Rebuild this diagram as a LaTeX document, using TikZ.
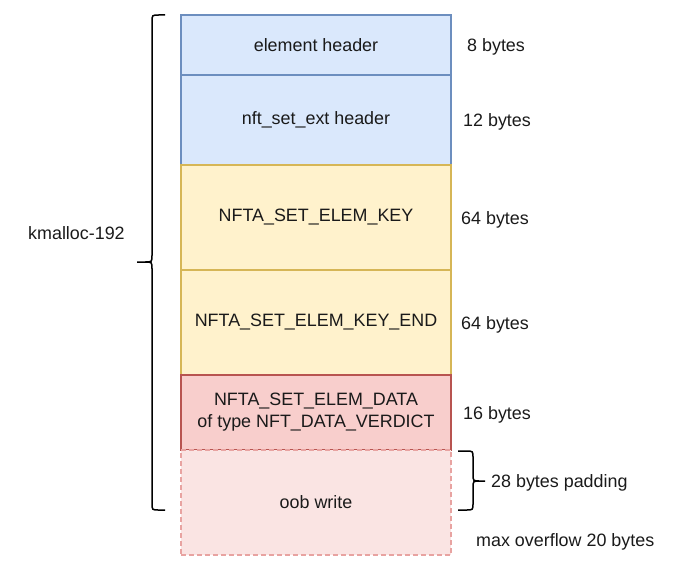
\documentclass[tikz,border=0pt]{standalone}
\usepackage{fontspec}
\setmainfont{Liberation Sans}
\definecolor{bfill}{HTML}{DAE8FC}
\definecolor{bline}{HTML}{6C8EBF}
\definecolor{yfill}{HTML}{FFF2CC}
\definecolor{yline}{HTML}{D6B656}
\definecolor{rfill}{HTML}{F8CECC}
\definecolor{rline}{HTML}{B85450}
\definecolor{pfill}{HTML}{FAE4E3}
\definecolor{pline}{HTML}{E8A3A1}
\definecolor{txt}{HTML}{1A1A1A}
\begin{document}
\begin{tikzpicture}[x=1pt,y=-1pt,
  font=\fontsize{17.9}{22}\selectfont, text=txt,
  field/.style={draw, line width=1.3pt, minimum width=270pt, inner sep=0pt, outer sep=0pt, align=center},
  bluebox/.style={field, fill=bfill, draw=bline},
  yellowbox/.style={field, fill=yfill, draw=yline},
  redbox/.style={field, fill=rfill, draw=rline},
  oobbox/.style={field, fill=pfill, draw=pline, dash pattern=on 5pt off 3pt},
  lbl/.style={inner sep=0pt, anchor=west, text height=13pt, text depth=0pt},
  bracestyle/.style={draw=black, line width=1.5pt}]
\useasboundingbox (0,0) rectangle (684,572);
\node[bluebox, minimum height=60pt] (eh) at (316,45) {element header};
\node[bluebox, minimum height=90pt] (ext) at (316,120) {nft\_set\_ext header};
\node[yellowbox, minimum height=105pt] (key) at (316,217.5) {NFTA\_SET\_ELEM\_KEY};
\node[yellowbox, minimum height=105pt] (keyend) at (316,322.5) {NFTA\_SET\_ELEM\_KEY\_END};
\node[redbox, minimum height=75pt] (data) at (316,412.5) {NFTA\_SET\_ELEM\_DATA\\of type NFT\_DATA\_VERDICT};
\node[oobbox, minimum height=105pt] (oob) at (316,502.5) {oob write};

\node[lbl] (s8) at (467,45) {8 bytes};
\node[lbl] (s12) at (463,120) {12 bytes};
\node[lbl] (s64a) at (461,217.5) {64 bytes};
\node[lbl] (s64b) at (461,322.5) {64 bytes};
\node[lbl] (s16) at (463,412.5) {16 bytes};
\node[lbl] (pad) at (491,481) {28 bytes padding};
\node[lbl] (maxo) at (476,540) {max overflow 20 bytes};
\node[lbl] (km) at (28,233) {kmalloc-192};

% left brace
\draw[bracestyle] (165,15) -- (159,15) .. controls (152,15) .. (152,22) -- (152,255)
  .. controls (152,262) .. (145,262) -- (137,262) -- (145,262)
  .. controls (152,262) .. (152,269) -- (152,503)
  .. controls (152,510) .. (159,510) -- (165,510);
% right brace
\draw[bracestyle] (458,451) -- (466,451) .. controls (473,451) .. (473,458) -- (473,474)
  .. controls (473,481) .. (480,481) -- (485,481) -- (480,481)
  .. controls (473,481) .. (473,488) -- (473,503)
  .. controls (473,510) .. (466,510) -- (458,510);
\end{tikzpicture}
\end{document}
